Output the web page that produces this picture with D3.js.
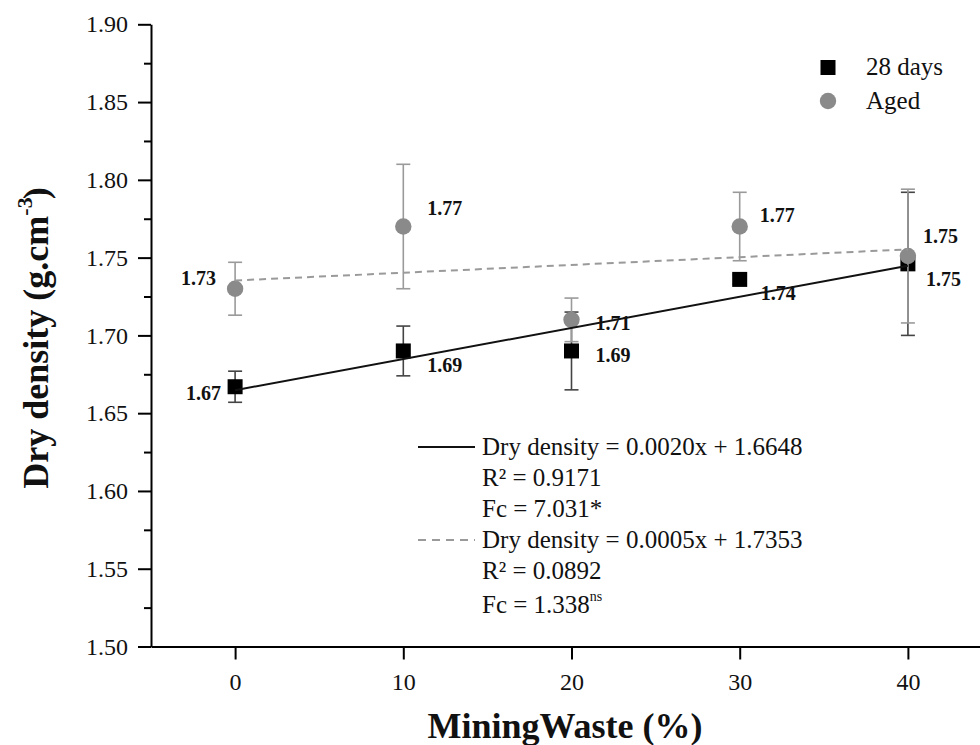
<!DOCTYPE html>
<html>
<head>
<meta charset="utf-8">
<script src="https://cdn.jsdelivr.net/npm/d3@7"></script>
<style>
  html, body { margin: 0; padding: 0; background: #fff; }
  svg { display: block; font-family: "Liberation Serif", "Times New Roman", serif; }
</style>
</head>
<body>
<svg id="chart" width="980" height="745"></svg>
<script>
// Mining waste content (%)
const wasteContent = [0, 10, 20, 30, 40];

// Dry density (g.cm-3), 28 days of curing
const density28 = [1.667, 1.690, 1.690, 1.736, 1.746];
const density28Err = [0.010, 0.016, 0.025, 0.003, 0.046];

// Dry density (g.cm-3), aged samples
const densityAged = [1.730, 1.770, 1.710, 1.770, 1.751];
const densityAgedErr = [0.017, 0.040, 0.014, 0.022, 0.043];

// Linear fits: 28 days, aged
const fitSlope = [0.0020, 0.0005];
const fitIntercept = [1.6648, 1.7353];
const fitR2 = ["0.9171", "0.0892"];
const fitFc = ["7.031", "1.338"];
const fitSignif = ["*", "ns"];

const seriesNames = ["28 days", "Aged"];
const yTickValues = [1.50, 1.55, 1.60, 1.65, 1.70, 1.75, 1.80, 1.85, 1.90];
const yMinorValues = [1.525, 1.575, 1.625, 1.675, 1.725, 1.775, 1.825, 1.875];
const xTickValues = [0, 10, 20, 30, 40];

// value-label placement around each marker: [dx, dy, anchor]
const label28Place = [[-14, 13, "end"], [24, 21, "start"], [24, 11, "start"], [21, 21, "start"], [18, 22, "start"]];
const labelAgedPlace = [[-19, -4, "end"], [24, -12, "start"], [24, 10, "start"], [20, -5, "start"], [15, -13, "start"]];

const svg = d3.select("#chart");
const x = d3.scaleLinear().domain([-5, 45]).range([151, 992]);
const y = d3.scaleLinear().domain([1.5, 1.9]).range([646.5, 24.3]);
const fmt = d3.format(".2f");

// axes
const xAxis = svg.append("g")
  .attr("transform", `translate(0,${y(1.5)})`)
  .call(d3.axisBottom(x).tickValues(xTickValues).tickSize(13).tickSizeOuter(0).tickPadding(13).tickFormat(d3.format("d")));
const yAxis = svg.append("g")
  .attr("transform", `translate(${x(-5)},0)`)
  .call(d3.axisLeft(y).tickValues(yTickValues).tickSize(13).tickSizeOuter(0).tickPadding(10).tickFormat(d3.format(".2f")));
svg.append("g")
  .attr("transform", `translate(${x(-5)},0)`)
  .call(d3.axisLeft(y).tickValues(yMinorValues).tickSize(7).tickSizeOuter(0).tickFormat(""))
  .select(".domain").remove();

svg.selectAll(".domain, .tick line").attr("stroke", "#000").attr("stroke-width", 2);
svg.selectAll(".tick text").attr("font-family", "Liberation Serif, serif").attr("font-size", 24).attr("fill", "#111");

// axis titles
svg.append("text")
  .attr("x", 565).attr("y", 738)
  .attr("text-anchor", "middle")
  .attr("font-size", 36).attr("font-weight", "bold").attr("fill", "#111")
  .text("MiningWaste (%)");

const yTitle = svg.append("text")
  .attr("transform", "translate(48,338) rotate(-90)")
  .attr("text-anchor", "middle")
  .attr("font-size", 36).attr("font-weight", "bold").attr("fill", "#111");
yTitle.append("tspan").text("Dry density (g.cm");
yTitle.append("tspan").attr("font-size", 22).attr("dy", -16).text("-3");
yTitle.append("tspan").attr("dx", -2).attr("dy", 16).text(")");

const plot = svg.append("g");
const pts28 = wasteContent.map((w, i) => ({ w, v: density28[i], e: density28Err[i], p: label28Place[i] }));
const ptsAged = wasteContent.map((w, i) => ({ w, v: densityAged[i], e: densityAgedErr[i], p: labelAgedPlace[i] }));

function errorBars(data, color) {
  const g = plot.append("g").attr("stroke", color).attr("stroke-width", 1.6).attr("fill", "none");
  data.forEach(d => {
    g.append("line").attr("x1", x(d.w)).attr("x2", x(d.w)).attr("y1", y(d.v - d.e)).attr("y2", y(d.v + d.e));
    [d.v - d.e, d.v + d.e].forEach(v => {
      g.append("line").attr("x1", x(d.w) - 7).attr("x2", x(d.w) + 7).attr("y1", y(v)).attr("y2", y(v));
    });
  });
}

errorBars(pts28, "#444");
plot.selectAll("rect.m28").data(pts28).join("rect")
  .attr("class", "m28")
  .attr("x", d => x(d.w) - 7.5).attr("y", d => y(d.v) - 7.5)
  .attr("width", 15).attr("height", 15).attr("fill", "#000");

errorBars(ptsAged, "#9a9a9a");
plot.selectAll("circle.mAged").data(ptsAged).join("circle")
  .attr("class", "mAged")
  .attr("cx", d => x(d.w)).attr("cy", d => y(d.v)).attr("r", 8.2)
  .attr("fill", "#8a8a8a");

// regression lines
const fitLine = (k) => d3.line().x(w => x(w)).y(w => y(fitIntercept[k] + fitSlope[k] * w));
const fitX = [wasteContent[0], wasteContent[wasteContent.length - 1]];
plot.append("path").datum(fitX).attr("d", fitLine(0))
  .attr("fill", "none").attr("stroke", "#111").attr("stroke-width", 2);
plot.append("path").datum(fitX).attr("d", fitLine(1))
  .attr("fill", "none").attr("stroke", "#9a9a9a").attr("stroke-width", 2).attr("stroke-dasharray", "7,5");

// value labels
function valueLabels(data) {
  plot.append("g").selectAll("text").data(data).join("text")
    .attr("x", d => x(d.w) + d.p[0]).attr("y", d => y(d.v) + d.p[1])
    .attr("text-anchor", d => d.p[2])
    .attr("font-size", 20).attr("font-weight", "bold").attr("fill", "#111")
    .text(d => fmt(d.v));
}
valueLabels(pts28);
valueLabels(ptsAged);

// series legend
const legend = svg.append("g").attr("transform", "translate(828,0)");
legend.append("rect").attr("x", -7.5).attr("y", 60).attr("width", 15).attr("height", 15).attr("fill", "#000");
legend.append("circle").attr("cx", 0).attr("cy", 101).attr("r", 8.2).attr("fill", "#8a8a8a");
legend.append("text").attr("x", 38).attr("y", 75).attr("font-size", 25).attr("fill", "#111").text(seriesNames[0]);
legend.append("text").attr("x", 38).attr("y", 109).attr("font-size", 25).attr("fill", "#111").text(seriesNames[1]);

// fit legend
const fitLegend = svg.append("g").attr("transform", "translate(482,0)");
const fitBase = [455, 548];
[0, 1].forEach(k => {
  const b = fitBase[k];
  fitLegend.append("line")
    .attr("x1", -64).attr("x2", -7).attr("y1", b - 8).attr("y2", b - 8)
    .attr("stroke", k === 0 ? "#111" : "#9a9a9a").attr("stroke-width", 1.8)
    .attr("stroke-dasharray", k === 0 ? null : "8,6");
  fitLegend.append("text").attr("x", 0).attr("y", b).attr("font-size", 25).attr("fill", "#111")
    .text(`Dry density = ${fitSlope[k].toFixed(4)}x + ${fitIntercept[k].toFixed(4)}`);
  fitLegend.append("text").attr("x", 0).attr("y", b + 31).attr("font-size", 25).attr("fill", "#111")
    .text(`R² = ${fitR2[k]}`);
  const fc = fitLegend.append("text").attr("x", 0).attr("y", b + (k === 0 ? 62 : 65)).attr("font-size", 25).attr("fill", "#111");
  fc.append("tspan").text(`Fc = ${fitFc[k]}`);
  if (k === 0) fc.append("tspan").text(fitSignif[k]);
  else fc.append("tspan").attr("font-size", 14).attr("dy", -12).text(fitSignif[k]);
});
</script>
</body>
</html>
